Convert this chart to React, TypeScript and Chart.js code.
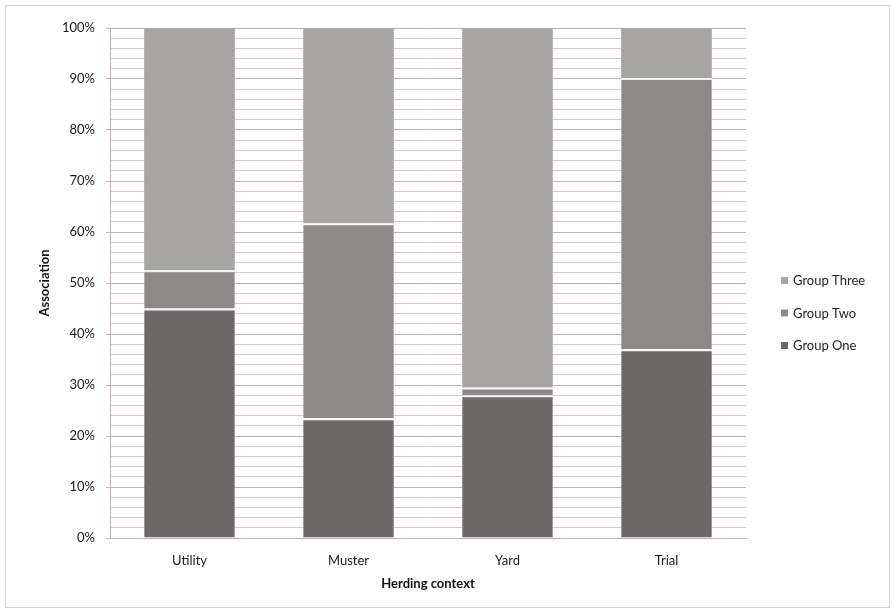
import { useEffect, useRef } from "react";
import { Chart, registerables } from "chart.js";

Chart.register(...registerables);

const categories = ["Utility", "Muster", "Yard", "Trial"];
const seriesNames = ["Group One", "Group Two", "Group Three"];
const groupOne = [45, 23.5, 28, 37];
const groupTwo = [7.5, 38.2, 1.5, 53.2];
const groupThree = [47.5, 38.3, 70.5, 9.8];
const seriesColors = ["#6d6969", "#8d8989", "#a8a5a5"];
const xTitle = "Herding context";
const yTitle = "Association";

const FONT = "Lato, 'Open Sans', sans-serif";
const MAJOR = "#c4b0ae";
const MINOR = "#d8cac8";

const legendPlugin = {
  id: "sideLegend",
  afterDraw(chart: any) {
    const ctx = chart.ctx;
    const ds = chart.data.datasets;
    const x = chart.chartArea.right + 35;
    const startY = 275;
    const gap = 32.5;
    ctx.save();
    ctx.font = `13px ${FONT}`;
    ctx.textBaseline = "middle";
    ctx.textAlign = "left";
    for (let i = ds.length - 1, k = 0; i >= 0; i--, k++) {
      const y = startY + k * gap;
      ctx.fillStyle = ds[i].backgroundColor;
      ctx.fillRect(x, y - 4, 7, 7);
      ctx.fillStyle = "#222222";
      ctx.fillText(ds[i].label, x + 12, y);
    }
    ctx.restore();
  },
};

export default function App() {
  const ref = useRef<HTMLCanvasElement | null>(null);

  useEffect(() => {
    if (!ref.current) return;
    const values = [groupOne, groupTwo, groupThree];
    const chart = new Chart(ref.current, {
      type: "bar",
      data: {
        labels: categories,
        datasets: values.map((v, i) => ({
          label: seriesNames[i],
          data: v,
          backgroundColor: seriesColors[i],
          borderColor: "#f4f6f6",
          borderWidth: i < 2 ? { top: 2, left: 0, right: 0, bottom: 0 } : 0,
          borderSkipped: false,
          categoryPercentage: 1,
          barPercentage: 0.57,
        })),
      },
      options: {
        animation: false,
        responsive: false,
        maintainAspectRatio: false,
        layout: { padding: { left: 31, right: 143, top: 22, bottom: 15 } },
        plugins: { legend: { display: false }, tooltip: { enabled: false } },
        scales: {
          x: {
            stacked: true,
            grid: { display: false, drawTicks: false },
            border: { display: true, color: MAJOR },
            ticks: { padding: 15, color: "#1a1a1a", font: { family: FONT, size: 13 } },
            title: {
              display: true,
              text: xTitle,
              color: "#111",
              font: { family: FONT, size: 13, weight: "bold" },
              padding: 0,
            },
            afterFit: (s: any) => {
              s.height = 54;
            },
          },
          y: {
            stacked: true,
            min: 0,
            max: 100,
            grid: {
              color: (c: any) => (c.tick && c.tick.value % 10 === 0 ? MAJOR : MINOR),
              tickColor: (c: any) => (c.tick && c.tick.value % 10 === 0 ? MAJOR : "rgba(0,0,0,0)"),
              tickLength: 4,
              lineWidth: 1,
            },
            border: { display: true, color: MAJOR },
            ticks: {
              stepSize: 2,
              autoSkip: false,
              padding: 11,
              color: "#1a1a1a",
              font: { family: FONT, size: 13 },
              callback: (v: any) => (Number(v) % 10 === 0 ? `${v}%` : ""),
            },
            title: {
              display: true,
              text: yTitle,
              color: "#111",
              font: { family: FONT, size: 13, weight: "bold" },
              padding: 0,
            },
            afterFit: (s: any) => {
              s.width = 73;
            },
          },
        },
      },
      plugins: [legendPlugin],
    });
    return () => chart.destroy();
  }, []);

  return (
    <div
      style={{
        position: "absolute",
        left: 5,
        top: 5,
        width: 885,
        height: 603,
        boxSizing: "border-box",
        border: "1px solid #d6d0d0",
        background: "#fff",
      }}
    >
      <canvas ref={ref} width={883} height={601} style={{ display: "block" }} />
    </div>
  );
}
